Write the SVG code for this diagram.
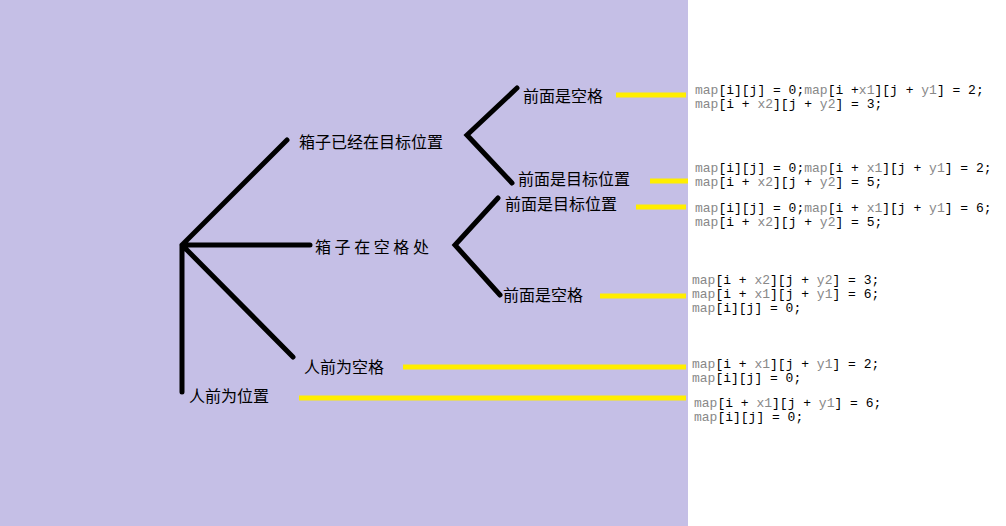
<svg xmlns="http://www.w3.org/2000/svg" width="1006" height="526" viewBox="0 0 1006 526">
<style>
.l{stroke:#000;stroke-width:5;fill:none;stroke-linecap:round}
.y{stroke:#FFEE00;stroke-width:5}
.t{font-family:"Noto Sans CJK SC","Noto Sans",sans-serif;font-size:16px;fill:#000}
.c{font-family:"Liberation Mono",monospace;font-size:13px;fill:#000}
.g{fill:#888}
</style>
<rect width="1006" height="526" fill="#fff"/>
<rect width="688" height="526" fill="#C5BFE6"/>
<g id="connectors">
<path class="l" d="M182,392V245L287,140M182,245H310M182,245L293,357"/>
<path class="l" d="M517,88L467,135L512,183"/>
<path class="l" d="M498,198L455,245L500,295"/>
<line class="y" x1="616" y1="95" x2="686" y2="95"/>
<line class="y" x1="650" y1="181" x2="688" y2="181"/>
<line class="y" x1="636" y1="207" x2="686" y2="207"/>
<line class="y" x1="600" y1="296" x2="686" y2="296"/>
<line class="y" x1="403" y1="367" x2="686" y2="367"/>
<line class="y" x1="299" y1="398" x2="686" y2="398"/>
</g>
<g id="n1"><text class="t" x="299" y="148">箱子已经在目标位置</text></g>
<g id="n2"><text class="t" x="315" y="253">箱 子 在 空 格 处</text></g>
<g id="n3"><text class="t" x="523" y="102">前面是空格</text></g>
<g id="n4"><text class="t" x="518" y="185">前面是目标位置</text></g>
<g id="n5"><text class="t" x="505" y="210">前面是目标位置</text></g>
<g id="n6"><text class="t" x="503" y="301">前面是空格</text></g>
<g id="n7"><text class="t" x="304" y="373">人前为空格</text></g>
<g id="n8"><text class="t" x="189" y="402">人前为位置</text></g>
<g id="code1" class="c">
<text x="695" y="94"><tspan class="g">map</tspan>[i][j] = 0;<tspan class="g">map</tspan>[i +<tspan class="g">x1</tspan>][j + <tspan class="g">y1</tspan>] = 2;</text>
<text x="695" y="108"><tspan class="g">map</tspan>[i + <tspan class="g">x2</tspan>][j + <tspan class="g">y2</tspan>] = 3;</text>
</g>
<g id="code2" class="c">
<text x="695" y="172"><tspan class="g">map</tspan>[i][j] = 0;<tspan class="g">map</tspan>[i + <tspan class="g">x1</tspan>][j + <tspan class="g">y1</tspan>] = 2;</text>
<text x="695" y="186"><tspan class="g">map</tspan>[i + <tspan class="g">x2</tspan>][j + <tspan class="g">y2</tspan>] = 5;</text>
</g>
<g id="code3" class="c">
<text x="695" y="212"><tspan class="g">map</tspan>[i][j] = 0;<tspan class="g">map</tspan>[i + <tspan class="g">x1</tspan>][j + <tspan class="g">y1</tspan>] = 6;</text>
<text x="695" y="226"><tspan class="g">map</tspan>[i + <tspan class="g">x2</tspan>][j + <tspan class="g">y2</tspan>] = 5;</text>
</g>
<g id="code4" class="c">
<text x="692" y="284"><tspan class="g">map</tspan>[i + <tspan class="g">x2</tspan>][j + <tspan class="g">y2</tspan>] = 3;</text>
<text x="692" y="298"><tspan class="g">map</tspan>[i + <tspan class="g">x1</tspan>][j + <tspan class="g">y1</tspan>] = 6;</text>
<text x="692" y="312"><tspan class="g">map</tspan>[i][j] = 0;</text>
</g>
<g id="code5" class="c">
<text x="692" y="368"><tspan class="g">map</tspan>[i + <tspan class="g">x1</tspan>][j + <tspan class="g">y1</tspan>] = 2;</text>
<text x="692" y="382"><tspan class="g">map</tspan>[i][j] = 0;</text>
</g>
<g id="code6" class="c">
<text x="694" y="407"><tspan class="g">map</tspan>[i + <tspan class="g">x1</tspan>][j + <tspan class="g">y1</tspan>] = 6;</text>
<text x="694" y="421"><tspan class="g">map</tspan>[i][j] = 0;</text>
</g>
</svg>
